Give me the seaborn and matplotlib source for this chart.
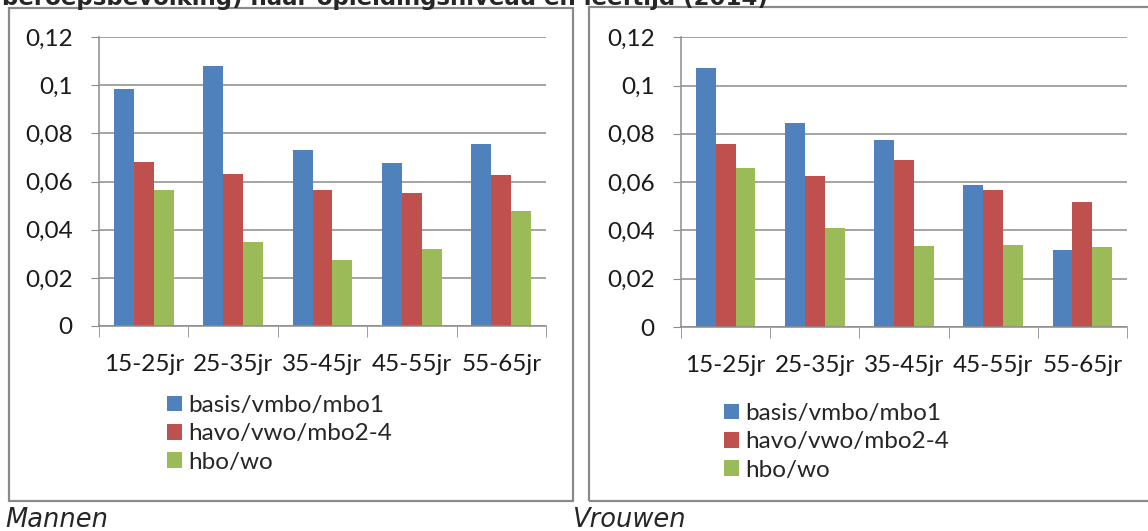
import pandas as pd
import seaborn as sns
import matplotlib.pyplot as plt
from matplotlib.patches import Patch, Rectangle
from matplotlib.ticker import FixedLocator

# Werkloosheid naar opleidingsniveau en leeftijd (2014)
leeftijden = ["15-25jr", "25-35jr", "35-45jr", "45-55jr", "55-65jr"]
niveaus = ["basis/vmbo/mbo1", "havo/vwo/mbo2-4", "hbo/wo"]

mannen_basis = [0.0986, 0.1082, 0.0730, 0.0677, 0.0758]
mannen_havo = [0.0682, 0.0633, 0.0564, 0.0553, 0.0629]
mannen_hbo = [0.0564, 0.0350, 0.0274, 0.0322, 0.0478]

vrouwen_basis = [0.1072, 0.0844, 0.0775, 0.0588, 0.0320]
vrouwen_havo = [0.0759, 0.0625, 0.0690, 0.0566, 0.0517]
vrouwen_hbo = [0.0658, 0.0411, 0.0335, 0.0341, 0.0330]

y_ticks = [0, 0.02, 0.04, 0.06, 0.08, 0.1, 0.12]
y_labels = ["0", "0,02", "0,04", "0,06", "0,08", "0,1", "0,12"]

kleuren = ["#4F81BD", "#C0504D", "#9BBB59"]


def to_long(reeksen):
    rows = []
    for niveau, waarden in zip(niveaus, reeksen):
        for leeftijd, w in zip(leeftijden, waarden):
            rows.append({"leeftijd": leeftijd, "niveau": niveau, "waarde": w})
    return pd.DataFrame(rows)


df_m = to_long([mannen_basis, mannen_havo, mannen_hbo])
df_v = to_long([vrouwen_basis, vrouwen_havo, vrouwen_hbo])

sns.set_style("white")
plt.rcParams["font.family"] = ["Lato", "DejaVu Sans"]

W, H = 1148, 531
fig = plt.figure(figsize=(W / 100, H / 100), dpi=100)


def fx(px):
    return px / W


def fy(py):
    return 1 - py / H


grid_c = "#8C8C8C"


def draw_panel(df, left, right, top, bottom, leg_x, leg_y):
    ax = fig.add_axes([fx(left), fy(bottom), fx(right - left), (bottom - top) / H])
    sns.barplot(data=df, x="leeftijd", y="waarde", hue="niveau",
                palette=kleuren, width=0.667, ax=ax, legend=False,
                saturation=1, edgecolor="none")
    ax.set_xlim(-0.5, 4.5)
    ax.set_ylim(0, 0.1201)
    ax.set_yticks(y_ticks)
    ax.set_yticklabels(y_labels)
    ax.set_xlabel("")
    ax.set_ylabel("")
    ax.yaxis.grid(True, color=grid_c, linewidth=1.1)
    ax.set_axisbelow(True)
    for s in ["top", "right"]:
        ax.spines[s].set_visible(False)
    for s in ["left", "bottom"]:
        ax.spines[s].set_color(grid_c)
        ax.spines[s].set_linewidth(1.1)
    ax.tick_params(axis="y", length=6, color=grid_c, labelsize=17.5, pad=13,
                   left=True, labelcolor="#1a1a1a")
    ax.tick_params(axis="x", which="major", length=0, labelsize=17.5, pad=20,
                   labelcolor="#1a1a1a")
    ax.xaxis.set_minor_locator(FixedLocator([-0.5, 0.5, 1.5, 2.5, 3.5, 4.5]))
    ax.tick_params(axis="x", which="minor", length=8, color=grid_c, bottom=True)

    handles = [Patch(facecolor=c, edgecolor="none") for c in kleuren]
    fig.legend(handles, niveaus, loc="upper left",
               bbox_to_anchor=(fx(leg_x), fy(leg_y)), frameon=False,
               fontsize=17.5, handlelength=0.62, handleheight=0.62,
               handletextpad=0.25, labelspacing=0.3, borderpad=0,
               borderaxespad=0)
    return ax


draw_panel(df_m, 99, 546, 37, 326, 167, 395)
draw_panel(df_v, 681, 1127, 37, 327, 724, 403)

# panel frames
for x0, y0, x1, y1 in [(9, 8, 573, 501), (589, 7, 1160, 501)]:
    fig.patches.append(Rectangle((fx(x0), fy(y1)), fx(x1 - x0), (y1 - y0) / H,
                                 transform=fig.transFigure, fill=False,
                                 edgecolor="#8A8A8A", linewidth=1.6))

fig.text(fx(2), fy(5), "beroepsbevolking) naar opleidingsniveau en leeftijd (2014)",
         fontsize=16.5, fontweight="bold", family="DejaVu Sans",
         va="baseline", ha="left")
fig.text(fx(5), fy(527), "Mannen", fontsize=18.5, style="italic",
         family="DejaVu Sans", va="baseline", ha="left")
fig.text(fx(573), fy(527), "Vrouwen", fontsize=18.5, style="italic",
         family="DejaVu Sans", va="baseline", ha="left")

fig.savefig("out.png", dpi=100)
